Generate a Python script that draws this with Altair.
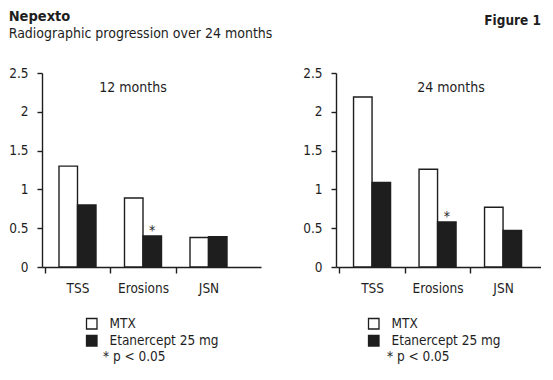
import altair as alt
import pandas as pd

categories = ["TSS", "Erosions", "JSN"]
series = ["MTX", "Etanercept 25 mg"]
periods = ["12 months", "24 months"]
mtx_12 = [1.30, 0.89, 0.38]
eta_12 = [0.80, 0.40, 0.39]
mtx_24 = [2.19, 1.26, 0.77]
eta_24 = [1.09, 0.58, 0.47]
sig_12 = ["", "*", ""]
sig_24 = ["", "*", ""]
y_ticks = [0, 0.5, 1, 1.5, 2, 2.5]
note = "* p < 0.05"

FONT = "DejaVu Sans Condensed"
INK = "#1e1e1e"

rows = []
for period, m, e, s in [(periods[0], mtx_12, eta_12, sig_12), (periods[1], mtx_24, eta_24, sig_24)]:
    for i, c in enumerate(categories):
        rows.append(dict(period=period, category=c, series=series[0], value=m[i], star=""))
        rows.append(dict(period=period, category=c, series=series[1], value=e[i], star=s[i]))
df = pd.DataFrame(rows)

STEP = 65.5
H = 194


def panel(period, width, offset_px, legend_x, label_x, note_x, title):
    pad_outer = (width / STEP - 3) / 2
    align = offset_px / max(width - 3 * STEP, 0.1)
    base = alt.Chart(df).transform_filter(alt.datum.period == period)
    x = alt.X("category:N", sort=categories,
              scale=alt.Scale(paddingInner=0, paddingOuter=pad_outer, align=align),
              axis=alt.Axis(title=None, labelAngle=0, tickOffset=-33, labelOffset=33,
                            tickSize=6, labelPadding=8, domainColor=INK, tickColor=INK,
                            domainWidth=1.4, tickWidth=1.4, labelFontSize=13.5,
                            labelFont=FONT, labelColor=INK))
    xo = alt.XOffset("series:N", sort=series,
                     scale=alt.Scale(paddingInner=0, paddingOuter=0.77))
    y = alt.Y("value:Q", scale=alt.Scale(domain=[0, 2.5], nice=False),
              axis=alt.Axis(title=None, values=y_ticks, format="~g", tickSize=5,
                            labelPadding=9, grid=False, domainColor=INK, tickColor=INK,
                            domainWidth=1.4, tickWidth=1.4, labelFontSize=13.5,
                            labelFont=FONT, labelColor=INK))
    bars = base.mark_bar(stroke=INK, strokeWidth=1.4).encode(
        x=x, xOffset=xo, y=y,
        fill=alt.Fill("series:N", sort=series,
                      scale=alt.Scale(domain=series, range=["white", INK]),
                      legend=alt.Legend(orient="none", legendX=legend_x, legendY=244,
                                        title=None, symbolType="square", symbolSize=110,
                                        symbolStrokeColor=INK, symbolStrokeWidth=1.3,
                                        labelFontSize=13.5, labelFont=FONT, labelColor=INK,
                                        labelOffset=11, rowPadding=0, padding=0,
                                        direction="vertical")),
    )
    stars = base.mark_text(baseline="alphabetic", dy=-1, fontSize=14, font=FONT,
                           fill=INK).encode(x=x, xOffset=xo, y=y, text="star:N")
    plabel = alt.Chart(pd.DataFrame({"label": [period]})).mark_text(
        fontSize=14, font=FONT, fill=INK, align="center", baseline="middle"
    ).encode(x=alt.value(label_x), y=alt.value(15), text="label:N")
    pnote = alt.Chart(pd.DataFrame({"label": [note]})).mark_text(
        fontSize=13.5, font=FONT, fill=INK, align="left", baseline="middle"
    ).encode(x=alt.value(note_x), y=alt.value(284), text="label:N")
    return alt.layer(bars, stars, plabel, pnote).properties(
        width=width, height=H, title=title)


left = panel(periods[0], 219, 2.75, 43, 91, 61,
             alt.TitleParams(text="Nepexto", subtitle="Radiographic progression over 24 months",
                             anchor="start", font=FONT, fontSize=14.5, fontWeight="bold",
                             color=INK, subtitleFont=FONT, subtitleFontSize=14,
                             subtitleColor=INK, subtitlePadding=3, offset=24))
right = panel(periods[1], 205, 3.3, 31, 115, 51,
              alt.TitleParams(text="Figure 1", anchor="end", font=FONT, fontSize=13.5,
                              fontWeight="bold", color=INK, offset=39))

chart = alt.hconcat(left, right, spacing=29).resolve_scale(fill="independent").resolve_legend(
    fill="independent").properties(padding=0).configure_view(stroke=None)

chart.save("out.html", embed_options={"renderer": "svg", "actions": False})
